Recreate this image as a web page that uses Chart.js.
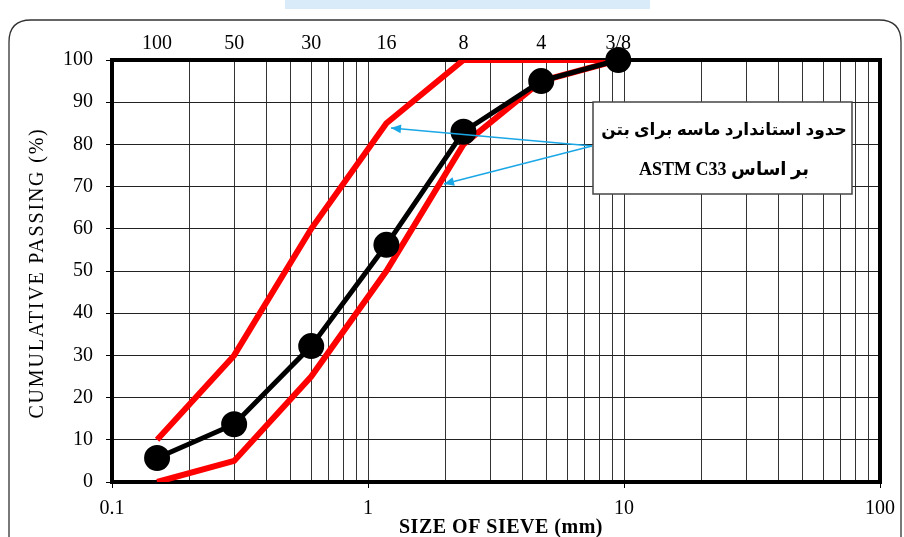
<!DOCTYPE html>
<html><head><meta charset="utf-8">
<script src="https://cdn.jsdelivr.net/npm/chart.js@4/dist/chart.umd.min.js"></script>
<style>html,body{margin:0;padding:0;background:#fff;}#wrap{width:904px;height:537px;position:relative;}</style>
</head><body><div id="wrap"><canvas id="c" width="904" height="537"></canvas></div>
<script>
const sieveSizes = [0.15, 0.3, 0.6, 1.18, 2.36, 4.75, 9.5];
const sieveLabels = ['100', '50', '30', '16', '8', '4', '3/8'];
const upperLimit = [10, 30, 60, 85, 100, 100, 100];
const lowerLimit = [0, 5, 25, 50, 80, 95, 100];
const sampleGrading = [5.7, 13.7, 32.2, 56.2, 83, 95, 100];
const yTicks = [0, 10, 20, 30, 40, 50, 60, 70, 80, 90, 100];
const xDecadeLabels = ['0.1', '1', '10', '100'];
const noteLine1 = 'حدود استاندارد ماسه برای بتن';
const noteLine2 = 'بر اساس ASTM C33';
const xTitle = 'SIZE OF SIEVE (mm)';
const yTitle = 'CUMULATIVE PASSING (%)';

const serif = '"Liberation Serif", "Times New Roman", serif';
const pts = arr => sieveSizes.map((x, i) => ({x: x, y: arr[i]}));

const minorTicks = [];
for (let k = -1; k <= 1; k++) for (let m = 1; m <= 9; m++) minorTicks.push(Number((m * Math.pow(10, k)).toPrecision(3)));
minorTicks.push(100);
const decadeIndex = v => xDecadeLabels.map(Number).findIndex(d => Math.abs(d - v) < 1e-9);

const extras = {
  id: 'extras',
  beforeDraw(chart) {
    const ctx = chart.ctx;
    ctx.save();
    ctx.fillStyle = '#fff';
    ctx.fillRect(0, 0, chart.width, chart.height);
    ctx.fillStyle = '#d9eaf8';
    ctx.fillRect(285, 0, 365, 9);
    ctx.strokeStyle = '#333';
    ctx.lineWidth = 1.3;
    ctx.beginPath();
    const r = 22, x0 = 9, y0 = 20, x1 = 901, y1 = 560;
    ctx.moveTo(x0, y1);
    ctx.lineTo(x0, y0 + r);
    ctx.quadraticCurveTo(x0, y0, x0 + r, y0);
    ctx.lineTo(x1 - r, y0);
    ctx.quadraticCurveTo(x1, y0, x1, y0 + r);
    ctx.lineTo(x1, y1);
    ctx.stroke();
    ctx.restore();
  },
  beforeDatasetsDraw(chart) {
    const ctx = chart.ctx, a = chart.chartArea;
    ctx.save();
    ctx.strokeStyle = '#000';
    ctx.lineWidth = 4;
    ctx.strokeRect(a.left, a.top, a.right - a.left, a.bottom - a.top);
    ctx.restore();
  },
  afterDraw(chart) {
    const ctx = chart.ctx, a = chart.chartArea;
    ctx.save();
    ctx.fillStyle = '#000';
    ctx.textAlign = 'center';
    ctx.textBaseline = 'middle';
    ctx.save();
    ctx.font = '20px ' + serif;
    ctx.letterSpacing = '1.8px';
    ctx.translate(38, 273);
    ctx.rotate(-Math.PI / 2);
    ctx.fillText(yTitle, 0, 0);
    ctx.restore();
    ctx.save();
    ctx.font = 'bold 20px ' + serif;
    ctx.letterSpacing = '0.5px';
    ctx.fillText(xTitle, 501, 528);
    ctx.restore();
    // arrows
    ctx.strokeStyle = '#1aa7e6';
    ctx.fillStyle = '#1aa7e6';
    ctx.lineWidth = 1.6;
    const from = {x: 592, y: 146};
    const targets = [{x: 391, y: 128}, {x: 444, y: 184}];
    targets.forEach(t => {
      ctx.beginPath();
      ctx.moveTo(from.x, from.y);
      ctx.lineTo(t.x, t.y);
      ctx.stroke();
      const ang = Math.atan2(t.y - from.y, t.x - from.x);
      const L = 10, W = 4.5;
      ctx.beginPath();
      ctx.moveTo(t.x, t.y);
      ctx.lineTo(t.x - L * Math.cos(ang) + W * Math.sin(ang), t.y - L * Math.sin(ang) - W * Math.cos(ang));
      ctx.lineTo(t.x - L * Math.cos(ang) - W * Math.sin(ang), t.y - L * Math.sin(ang) + W * Math.cos(ang));
      ctx.closePath();
      ctx.fill();
    });
    // note box
    ctx.fillStyle = '#fff';
    ctx.fillRect(593, 102, 259, 92);
    ctx.strokeStyle = '#444';
    ctx.lineWidth = 1.5;
    ctx.strokeRect(593, 102, 259, 92);
    ctx.fillStyle = '#000';
    ctx.direction = 'rtl';
    ctx.textAlign = 'center';
    ctx.font = 'bold 17px ' + serif + ', "DejaVu Sans"';
    ctx.fillText(noteLine1, 724, 131);
    ctx.font = 'bold 18px ' + serif + ', "DejaVu Sans"';
    ctx.fillText(noteLine2, 724, 170);
    ctx.restore();
  }
};

new Chart(document.getElementById('c'), {
  type: 'line',
  data: {
    datasets: [
      {label: 'upper', data: pts(upperLimit), borderColor: '#ff0000', borderWidth: 6, pointRadius: 0, tension: 0, fill: false, xAxisID: 'x', order: 2},
      {label: 'lower', data: pts(lowerLimit), borderColor: '#ff0000', borderWidth: 6, pointRadius: 0, tension: 0, fill: false, xAxisID: 'x', order: 3},
      {label: 'sample', data: pts(sampleGrading), borderColor: '#000', borderWidth: 5, pointRadius: 10.5, pointBackgroundColor: '#000', pointBorderColor: '#000', tension: 0, fill: false, clip: false, xAxisID: 'x', order: 1}
    ]
  },
  options: {
    responsive: false,
    animation: false,
    layout: {padding: {left: 0, right: 24, top: 0, bottom: 0}},
    plugins: {legend: {display: false}, tooltip: {enabled: false}},
    scales: {
      x: {
        type: 'logarithmic', position: 'bottom', min: 0.1, max: 100,
        afterBuildTicks: s => { s.ticks = minorTicks.map(v => ({value: v})); },
        afterFit: s => { s.height = 55; },
        grid: {
          color: '#333', lineWidth: 1, drawTicks: true, tickLength: 6,
          tickColor: c => (c.tick && decadeIndex(c.tick.value) >= 0) ? '#000' : 'rgba(0,0,0,0)'
        },
        border: {display: false},
        ticks: {
          autoSkip: false, maxRotation: 0, padding: 9, color: '#000',
          font: {family: serif, size: 20},
          callback: v => { const i = decadeIndex(v); return i >= 0 ? xDecadeLabels[i] : ''; }
        }
      },
      xTop: {
        type: 'logarithmic', position: 'top', min: 0.1, max: 100,
        afterBuildTicks: s => { s.ticks = sieveSizes.map(v => ({value: v})); },
        afterFit: s => { s.height = 60; },
        grid: {display: false, drawTicks: false},
        border: {display: false},
        ticks: {
          autoSkip: false, maxRotation: 0, padding: 4, color: '#000',
          font: {family: serif, size: 20},
          callback: (v, i) => sieveLabels[i]
        }
      },
      y: {
        type: 'linear', min: 0, max: 100,
        afterBuildTicks: s => { s.ticks = yTicks.map(v => ({value: v})); },
        afterFit: s => { s.width = 112; },
        grid: {color: '#222', lineWidth: 1, drawTicks: true, tickLength: 6, tickColor: '#000'},
        border: {display: false},
        ticks: {padding: 13, color: '#000', font: {family: serif, size: 20}}
      }
    }
  },
  plugins: [extras]
});
</script></body></html>
